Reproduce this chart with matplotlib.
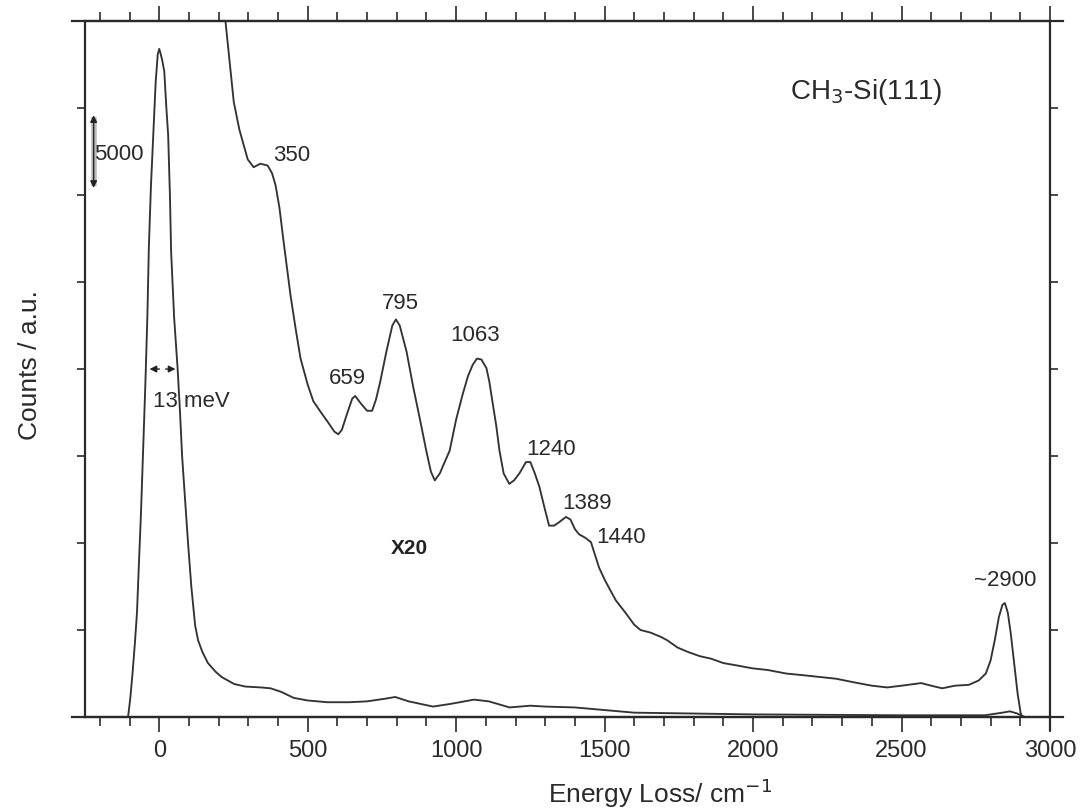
import matplotlib
matplotlib.use("Agg")
import matplotlib.pyplot as plt
from matplotlib.lines import Line2D
from matplotlib.ticker import MultipleLocator, NullFormatter

plt.rcParams['font.family'] = ['Liberation Sans', 'DejaVu Sans']

# Elastic peak (x1) spectrum
x1_energy = [-105, -98, -90, -82, -75, -68, -62, -55, -47, -40, -35, -28, -20, -12, -5, 0,
             5, 10, 17, 24, 30, 36, 40, 50, 62, 70, 77, 87, 97, 108, 121, 131, 145, 164,
             190, 210, 231, 252, 290, 342, 375, 410, 453, 500, 566, 640, 700, 760, 795,
             840, 922, 980, 1060, 1110, 1180, 1250, 1300, 1400, 1500, 1600, 1800, 2000,
             2500, 2780, 2840, 2865, 2890, 2915]
x1_counts = [0.0, 0.2, 0.5, 0.85, 1.2, 1.8, 2.3, 3.0, 3.8, 4.6, 5.4, 6.1, 6.7, 7.3, 7.62, 7.68,
             7.62, 7.55, 7.42, 7.0, 6.69, 6.0, 5.35, 4.6, 4.0, 3.5, 3.0, 2.5, 2.0, 1.5, 1.05,
             0.88, 0.75, 0.62, 0.52, 0.46, 0.42, 0.38, 0.35, 0.34, 0.33, 0.29, 0.22, 0.19,
             0.17, 0.17, 0.18, 0.21, 0.23, 0.18, 0.12, 0.15, 0.20, 0.18, 0.11, 0.13, 0.12,
             0.11, 0.08, 0.05, 0.04, 0.03, 0.02, 0.02, 0.05, 0.065, 0.04, 0.0]

# Magnified (x20) spectrum
x20_energy = [220, 235, 251, 270, 298, 318, 340, 365, 380, 392, 405, 419, 442, 460, 476, 500,
              519, 545, 566, 590, 603, 615, 632, 650, 660, 680, 700, 717, 730, 744, 765, 785,
              797, 810, 833, 855, 877, 900, 915, 928, 945, 960, 978, 1000, 1022, 1040, 1056,
              1070, 1085, 1102, 1112, 1122, 1135, 1146, 1160, 1179, 1195, 1213, 1235, 1250,
              1265, 1280, 1298, 1313, 1330, 1347, 1370, 1385, 1400, 1414, 1435, 1454, 1468,
              1481, 1500, 1514, 1538, 1570, 1600, 1621, 1655, 1690, 1712, 1745, 1779, 1820,
              1859, 1900, 1950, 1997, 2050, 2111, 2170, 2225, 2280, 2338, 2400, 2452, 2500,
              2566, 2600, 2637, 2680, 2727, 2760, 2784, 2800, 2815, 2828, 2840, 2848, 2858,
              2868, 2880, 2891, 2901, 2906]
x20_counts = [8.1, 7.6, 7.07, 6.75, 6.41, 6.32, 6.36, 6.34, 6.25, 6.11, 5.85, 5.46, 4.85, 4.45,
              4.12, 3.82, 3.63, 3.50, 3.40, 3.28, 3.25, 3.30, 3.48, 3.66, 3.69, 3.60, 3.52,
              3.52, 3.65, 3.85, 4.20, 4.50, 4.57, 4.50, 4.20, 3.80, 3.44, 3.05, 2.82, 2.72,
              2.80, 2.92, 3.06, 3.42, 3.71, 3.92, 4.05, 4.12, 4.11, 4.01, 3.85, 3.63, 3.35,
              3.06, 2.80, 2.68, 2.72, 2.80, 2.93, 2.93, 2.80, 2.65, 2.40, 2.20, 2.20, 2.24,
              2.30, 2.27, 2.16, 2.10, 2.06, 2.01, 1.86, 1.72, 1.58, 1.49, 1.34, 1.20, 1.06,
              1.00, 0.97, 0.92, 0.88, 0.80, 0.75, 0.70, 0.67, 0.62, 0.59, 0.56, 0.54, 0.50,
              0.48, 0.46, 0.44, 0.40, 0.36, 0.34, 0.36, 0.39, 0.36, 0.33, 0.36, 0.37, 0.42,
              0.50, 0.65, 0.90, 1.15, 1.29, 1.31, 1.20, 0.96, 0.60, 0.27, 0.05, 0.0]

# Peak labels
peak_labels = ["350", "659", "795", "1063", "1240", "1389", "1440", "~2900"]
peak_label_x = [385, 633, 811, 1065, 1320, 1441, 1554, 2848]
peak_label_y = [6.46, 3.89, 4.75, 4.38, 3.08, 2.45, 2.06, 1.57]
peak_label_ha = ["left", "center", "center", "center", "center", "center", "center", "center"]

fig = plt.figure(figsize=(10.83, 8.10), dpi=100)
ax = fig.add_axes([0.0785, 0.1148, 0.891, 0.8592])

lc = '#333333'
ax.plot(x1_energy, x1_counts, color=lc, lw=1.35)
ax.plot(x20_energy, x20_counts, color=lc, lw=1.35)

ax.set_xlim(-250, 3000)
ax.set_ylim(0, 8)

ax.xaxis.set_major_locator(MultipleLocator(500))
ax.xaxis.set_minor_locator(MultipleLocator(100))
ax.yaxis.set_major_locator(MultipleLocator(1))
ax.yaxis.set_major_formatter(NullFormatter())

ax.tick_params(axis='x', which='major', direction='out', length=10.5, width=1.2,
               top=True, bottom=True, labelsize=17, pad=6, colors='#2a2a2a')
ax.tick_params(axis='x', which='minor', direction='out', length=6.5, width=1.2,
               top=True, bottom=True, colors='#2a2a2a')
ax.tick_params(axis='y', which='major', direction='out', length=6, width=1.2,
               left=True, right=True, colors='#2a2a2a')

for s in ax.spines.values():
    s.set_linewidth(1.6)
    s.set_color('#2a2a2a')

# spine overshoot
ext = [Line2D([-0.013, 1.013], [0, 0], transform=ax.transAxes, color='#2a2a2a', lw=1.6, clip_on=False),
       Line2D([-0.013, 1.013], [1, 1], transform=ax.transAxes, color='#2a2a2a', lw=1.6, clip_on=False),
       Line2D([1, 1], [-0.019, 0], transform=ax.transAxes, color='#2a2a2a', lw=1.6, clip_on=False)]
for l in ext:
    ax.add_line(l)

ax.set_xlabel("Energy Loss/ cm$^{-1}$", fontsize=19, color='#2a2a2a')
ax.xaxis.set_label_coords(0.596, -0.085)
ax.set_ylabel("Counts / a.u.", fontsize=19, color='#2a2a2a')
ax.yaxis.set_label_coords(-0.045, 0.506)

for t, x, y, ha in zip(peak_labels, peak_label_x, peak_label_y, peak_label_ha):
    ax.text(x, y, t, fontsize=16, ha=ha, va='center', color='#2a2a2a')

ax.text(844, 1.94, "X20", fontsize=15, fontweight='bold', ha='center', va='center', color='#222222')
ax.text(2382, 7.18, "CH$_3$-Si(111)", fontsize=20, ha='center', va='center', color='#2a2a2a')

# FWHM arrow
ax.annotate("", xy=(-42, 4.0), xytext=(10, 4.0),
            arrowprops=dict(arrowstyle='-|>', color='#222222', lw=1.0, mutation_scale=10))
ax.annotate("", xy=(64, 4.0), xytext=(12, 4.0),
            arrowprops=dict(arrowstyle='-|>', color='#222222', lw=1.0, mutation_scale=10))
ax.text(-22, 3.63, "13 meV", fontsize=16, ha='left', va='center', color='#2a2a2a')

# scale bar
ax.plot([-221, -221], [6.1, 6.9], color='#bbbbbb', lw=4, solid_capstyle='butt')
ax.annotate("", xy=(-221, 6.95), xytext=(-221, 6.05),
            arrowprops=dict(arrowstyle='<|-|>', color='#222222', lw=1.0, mutation_scale=10))
ax.text(-218, 6.47, "5000", fontsize=16, ha='left', va='center', color='#2a2a2a')

fig.savefig("out.png", dpi=100)
